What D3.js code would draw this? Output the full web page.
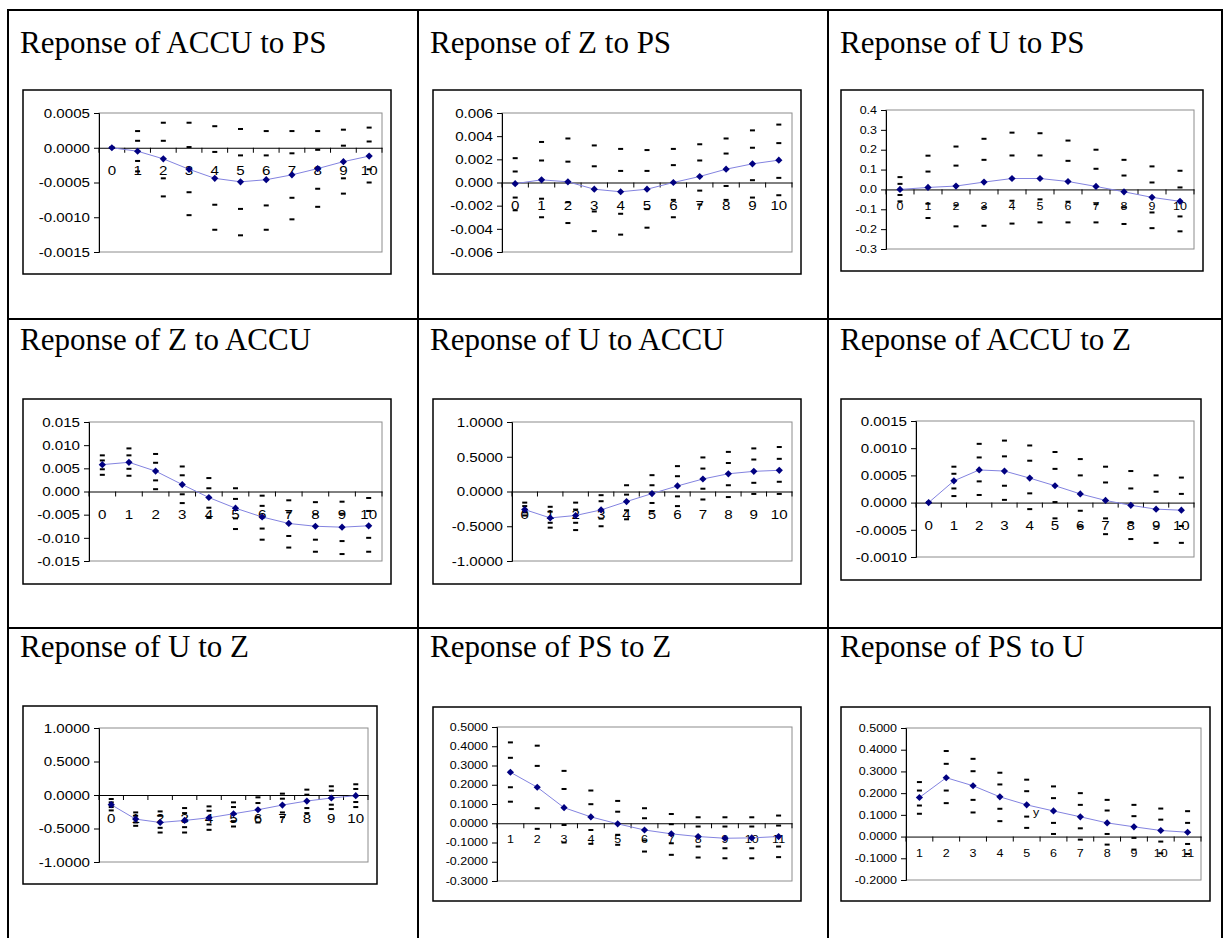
<!DOCTYPE html>
<html lang="en">
<head>
<meta charset="utf-8">
<title>Impulse responses</title>
<script src="https://cdn.jsdelivr.net/npm/d3@7"></script>
<style>
  body { margin: 0; background: #fff; }
  svg text { font-family: "Liberation Sans", Arial, sans-serif; fill: #000; }
  svg .title { font-family: "Liberation Serif", "Times New Roman", serif; font-size: 31px; }
</style>
</head>
<body>
<script>

// ---- data ----
var stepsA = [0, 1, 2, 3, 4, 5, 6, 7, 8, 9, 10],
    stepsB = [1, 2, 3, 4, 5, 6, 7, 8, 9, 10, 11];

var titles = ["Reponse of ACCU to PS", "Reponse of Z to PS", "Reponse of U to PS",
              "Reponse of Z to ACCU", "Reponse of U to ACCU", "Reponse of ACCU to Z",
              "Reponse of U to Z", "Reponse of PS to Z", "Reponse of PS to U"];

// response + bands [upper2, upper1, lower1, lower2] for each step
var accuPS = [0, -0.00005, -0.00016, -0.00031, -0.00044, -0.00049, -0.00046, -0.00039, -0.0003, -0.0002, -0.00012];
var accuPSBands = [
  [0, 0, 0, 0], [0.00024, 0.0001, -0.00019, -0.00034], [0.00036, 0.0001, -0.00044, -0.0007],
  [0.00036, 0.00001, -0.00064, -0.00097], [0.00031, -0.00006, -0.00082, -0.00118],
  [0.00027, -0.00011, -0.00088, -0.00126], [0.00024, -0.00011, -0.00083, -0.00118],
  [0.00024, -0.00008, -0.00072, -0.00103], [0.00024, -0.00003, -0.00059, -0.00085],
  [0.00026, 0.00003, -0.00044, -0.00066], [0.00029, 0.00009, -0.00031, -0.0005]];

var zPS = [-0.0001, 0.00023, 0.00006, -0.00058, -0.0008, -0.00058, 0, 0.00052, 0.00115, 0.00161, 0.00193];
var zPSBands = [
  [0.0021, 0.00095, -0.0013, -0.0024], [0.0035, 0.0019, -0.0014, -0.003], [0.0038, 0.0018, -0.0017, -0.0035],
  [0.0032, 0.0014, -0.0025, -0.0042], [0.0029, 0.001, -0.0027, -0.0045], [0.0028, 0.001, -0.0023, -0.0039],
  [0.0029, 0.0015, -0.0015, -0.003], [0.0033, 0.0019, -0.0007, -0.0019], [0.0038, 0.0025, -0.0003, -0.0015],
  [0.0045, 0.003, 0.0002, -0.0013], [0.005, 0.0034, 0.0004, -0.0011]];

var uPS = [0, 0.01, 0.017, 0.037, 0.055, 0.055, 0.04, 0.015, -0.012, -0.04, -0.06];
var uPSBands = [
  [0.062, 0.028, -0.028, -0.06], [0.17, 0.09, -0.072, -0.144], [0.216, 0.12, -0.08, -0.186],
  [0.255, 0.149, -0.09, -0.183], [0.286, 0.171, -0.057, -0.172], [0.283, 0.171, -0.05, -0.166],
  [0.246, 0.144, -0.062, -0.166], [0.2, 0.104, -0.074, -0.166], [0.149, 0.07, -0.09, -0.174],
  [0.116, 0.035, -0.116, -0.195], [0.094, 0.01, -0.136, -0.211]];

var zACCU = [0.0058, 0.0063, 0.0044, 0.0015, -0.0013, -0.0036, -0.0055, -0.0069, -0.0075, -0.0077, -0.0074];
var zACCUBands = [
  [0.0078, 0.0067, 0.0048, 0.0036], [0.0093, 0.0078, 0.0049, 0.0034], [0.0081, 0.0062, 0.0024, 0.0005],
  [0.0054, 0.0035, -0.0006, -0.0025], [0.0029, 0.0007, -0.0035, -0.0057], [0.0007, -0.0016, -0.0058, -0.0081],
  [-0.0009, -0.0031, -0.008, -0.0104], [-0.0019, -0.0045, -0.0096, -0.0121], [-0.0023, -0.0049, -0.0104, -0.013],
  [-0.0022, -0.0048, -0.0107, -0.0135], [-0.0014, -0.0042, -0.01, -0.013]];

var uACCU = [-0.26, -0.38, -0.345, -0.265, -0.145, -0.03, 0.08, 0.18, 0.255, 0.29, 0.305];
var uACCUBands = [
  [-0.16, -0.21, -0.3, -0.345], [-0.22, -0.29, -0.45, -0.52], [-0.16, -0.26, -0.45, -0.555],
  [-0.053, -0.14, -0.39, -0.5], [0.09, -0.045, -0.27, -0.4], [0.235, 0.09, -0.165, -0.285],
  [0.365, 0.22, -0.07, -0.21], [0.49, 0.33, 0.04, -0.115], [0.57, 0.41, 0.09, -0.08],
  [0.62, 0.46, 0.125, -0.035], [0.64, 0.47, 0.14, -0.035]];

var accuZ = [0, 0.0004, 0.0006, 0.00058, 0.00045, 0.00031, 0.00016, 0.00004, -0.00005, -0.00012, -0.00014];
var accuZBands = [
  [0, 0, 0, 0], [0.00066, 0.00053, 0.00026, 0.00012], [0.00108, 0.00083, 0.00039, 0.00014],
  [0.00114, 0.00085, 0.00031, 0.00005], [0.00105, 0.00077, 0.00017, -0.00012], [0.00093, 0.00062, 0.00001, -0.00029],
  [0.0008, 0.0005, -0.00015, -0.00044], [0.00066, 0.00037, -0.00029, -0.00058], [0.00058, 0.00026, -0.00037, -0.00067],
  [0.0005, 0.0002, -0.00044, -0.00074], [0.00046, 0.00016, -0.00043, -0.00074]];

var uZ = [-0.145, -0.36, -0.41, -0.38, -0.34, -0.28, -0.22, -0.15, -0.09, -0.045, -0.01];
var uZBands = [
  [-0.06, -0.11, -0.18, -0.23], [-0.26, -0.31, -0.41, -0.46], [-0.245, -0.31, -0.49, -0.56],
  [-0.195, -0.27, -0.48, -0.56], [-0.17, -0.235, -0.44, -0.52], [-0.11, -0.18, -0.39, -0.47],
  [-0.035, -0.12, -0.33, -0.41], [0.02, -0.055, -0.26, -0.33], [0.08, 0.005, -0.195, -0.27],
  [0.13, 0.065, -0.145, -0.21], [0.16, 0.09, -0.105, -0.18]];

var psZ = [0.265, 0.187, 0.081, 0.033, -0.003, -0.035, -0.055, -0.069, -0.078, -0.076, -0.069];
var psZBands = [
  [0.42, 0.34, 0.187, 0.112], [0.403, 0.298, 0.078, -0.029], [0.272, 0.178, -0.009, -0.1],
  [0.17, 0.099, -0.035, -0.107], [0.116, 0.06, -0.06, -0.112], [0.078, 0.026, -0.09, -0.147],
  [0.048, -0.005, -0.104, -0.164], [0.031, -0.017, -0.121, -0.178], [0.031, -0.017, -0.13, -0.182],
  [0.031, -0.017, -0.13, -0.182], [0.04, -0.012, -0.121, -0.176]];

var psU = [0.18, 0.271, 0.234, 0.183, 0.146, 0.118, 0.091, 0.063, 0.045, 0.028, 0.02];
var psUBands = [
  [0.251, 0.212, 0.143, 0.105], [0.394, 0.335, 0.212, 0.154], [0.358, 0.301, 0.169, 0.111],
  [0.294, 0.24, 0.128, 0.071], [0.262, 0.209, 0.092, 0.04], [0.231, 0.177, 0.063, 0.012],
  [0.2, 0.146, 0.038, -0.014], [0.169, 0.12, 0.012, -0.037], [0.146, 0.094, -0.006, -0.06],
  [0.129, 0.078, -0.023, -0.077], [0.117, 0.063, -0.034, -0.08]];

// y tick labels
var ticksAccuPS = [0.0005, 0, -0.0005, -0.001, -0.0015],
    ticksZPS    = [0.006, 0.004, 0.002, 0, -0.002, -0.004, -0.006],
    ticksUPS    = [0.4, 0.3, 0.2, 0.1, 0, -0.1, -0.2, -0.3],
    ticksZACCU  = [0.015, 0.01, 0.005, 0, -0.005, -0.01, -0.015],
    ticksUnit   = [1, 0.5, 0, -0.5, -1],
    ticksAccuZ  = [0.0015, 0.001, 0.0005, 0, -0.0005, -0.001],
    ticksPSZ    = [0.5, 0.4, 0.3, 0.2, 0.1, 0, -0.1, -0.2, -0.3],
    ticksPSU    = [0.5, 0.4, 0.3, 0.2, 0.1, 0, -0.1, -0.2];

// ---- layout ----
var W = 1228, H = 938;
var colX = [8, 418, 828, 1222],
    rowY = [10, 319, 628],
    titleBase = [53, 350, 657];

var panels = [
  {steps: stepsA, resp: accuPS, bands: accuPSBands, ticks: ticksAccuPS, fmt: ".4f", box: [23, 90, 391, 274],  plot: [99, 113, 382, 252],  small: false},
  {steps: stepsA, resp: zPS,    bands: zPSBands,    ticks: ticksZPS,    fmt: ".3f", box: [433, 90, 801, 274], plot: [502, 113, 792, 252], small: false},
  {steps: stepsA, resp: uPS,    bands: uPSBands,    ticks: ticksUPS,    fmt: ".1f", box: [841, 90, 1203, 271], plot: [886, 110, 1194, 249], small: true},
  {steps: stepsA, resp: zACCU,  bands: zACCUBands,  ticks: ticksZACCU,  fmt: ".3f", box: [23, 399, 391, 584], plot: [89, 422, 382, 561],  small: false},
  {steps: stepsA, resp: uACCU,  bands: uACCUBands,  ticks: ticksUnit,   fmt: ".4f", box: [433, 399, 801, 584], plot: [512, 422, 792, 561], small: false},
  {steps: stepsA, resp: accuZ,  bands: accuZBands,  ticks: ticksAccuZ,  fmt: ".4f", box: [841, 399, 1201, 580], plot: [916, 421, 1194, 557], small: false},
  {steps: stepsA, resp: uZ,     bands: uZBands,     ticks: ticksUnit,   fmt: ".4f", box: [23, 706, 377, 884], plot: [99, 728, 368, 862],  small: false},
  {steps: stepsB, resp: psZ,    bands: psZBands,    ticks: ticksPSZ,    fmt: ".4f", box: [433, 707, 801, 901], plot: [497, 727, 792, 881], small: true},
  {steps: stepsB, resp: psU,    bands: psUBands,    ticks: ticksPSU,    fmt: ".4f", box: [841, 707, 1210, 901], plot: [906, 728, 1201, 880], small: true}
];

var svg = d3.select("body").append("svg")
  .attr("width", W).attr("height", H);

// table grid
var grid = svg.append("g").attr("stroke", "#000").attr("stroke-width", 2);
colX.forEach(function(x) {
  grid.append("line").attr("x1", x).attr("x2", x).attr("y1", rowY[0]).attr("y2", H);
});
rowY.forEach(function(y) {
  grid.append("line").attr("x1", colX[0] - 1).attr("x2", colX[3] + 1).attr("y1", y).attr("y2", y);
});

function stretch(sel, sx) {
  // the chart fonts in the picture are a bit wide
  sel.attr("transform", function() {
    var t = d3.select(this).attr("transform");
    return (t ? t + " " : "") + "scale(" + sx + ",1)";
  });
}

panels.forEach(function(p, i) {
  var col = i % 3, row = Math.floor(i / 3);
  var fs = p.small ? 10 : 13.5,
      sx = p.small ? 1.25 : 1.12,
      pad = p.small ? 13 : 18;

  svg.append("text").attr("class", "title")
    .attr("x", colX[col] + 12).attr("y", titleBase[row])
    .text(titles[i]);

  var g = svg.append("g");

  g.append("rect")
    .attr("x", p.box[0]).attr("y", p.box[1])
    .attr("width", p.box[2] - p.box[0]).attr("height", p.box[3] - p.box[1])
    .attr("fill", "#fff").attr("stroke", "#000").attr("stroke-width", 1.5);

  var x = d3.scaleBand().domain(p.steps).range([p.plot[0], p.plot[2]]);
  var y = d3.scaleLinear().domain(d3.extent(p.ticks)).range([p.plot[3], p.plot[1]]);
  var cx = function(d) { return x(d) + x.bandwidth() / 2; };

  g.append("rect")
    .attr("x", p.plot[0]).attr("y", p.plot[1])
    .attr("width", p.plot[2] - p.plot[0]).attr("height", p.plot[3] - p.plot[1])
    .attr("fill", "none").attr("stroke", "#8c8c8c").attr("stroke-width", 1);

  var f = d3.format(p.fmt);
  var yAxis = g.append("g")
    .attr("transform", "translate(" + p.plot[0] + ",0)")
    .call(d3.axisLeft(y).tickValues(p.ticks).tickSizeOuter(0).tickSize(5).tickPadding(4)
      .tickFormat(function(d) { return f(d).replace("\u2212", "-"); }));
  yAxis.select(".domain").attr("stroke", "#000");
  yAxis.selectAll(".tick line").attr("stroke", "#000");
  yAxis.selectAll("text").attr("font-size", fs).attr("font-family", null)
    .attr("x", -9 / sx).call(stretch, sx);

  // x axis sits on zero
  var y0 = y(0);
  var xAxis = g.append("g")
    .attr("transform", "translate(0," + y0 + ")")
    .call(d3.axisBottom(x).tickSize(0).tickPadding(pad));
  xAxis.select(".domain").attr("stroke", "#000");
  xAxis.selectAll("text").attr("font-size", fs).attr("font-family", null).call(stretch, sx);

  var edges = p.steps.map(function(d) { return x(d); }).concat([x.range()[1]]);
  g.append("g").selectAll("line").data(edges).enter().append("line")
    .attr("x1", function(d) { return d; }).attr("x2", function(d) { return d; })
    .attr("y1", y0).attr("y2", y0 + 5)
    .attr("stroke", "#000");

  // response line
  var line = d3.line()
    .x(function(d, k) { return cx(p.steps[k]); })
    .y(function(d) { return y(d); });
  g.append("path").datum(p.resp)
    .attr("d", line)
    .attr("fill", "none").attr("stroke", "#8383e0").attr("stroke-width", 1);

  // bands as short dashes
  var dashes = [];
  p.bands.forEach(function(b, k) {
    b.forEach(function(v) { dashes.push({s: p.steps[k], v: v}); });
  });
  g.append("g").selectAll("rect").data(dashes).enter().append("rect")
    .attr("x", function(d) { return cx(d.s) - 2.5; })
    .attr("y", function(d) { return y(d.v) - 1; })
    .attr("width", 5).attr("height", 2)
    .attr("fill", "#000");

  // diamond markers
  g.append("g").selectAll("path").data(p.resp).enter().append("path")
    .attr("d", function(d, k) {
      var px = cx(p.steps[k]), py = y(d), r = 3.6;
      return "M" + px + "," + (py - r) + "L" + (px + r) + "," + py + "L" + px + "," + (py + r) + "L" + (px - r) + "," + py + "Z";
    })
    .attr("fill", "#000080");
});

// stray label left in the last chart
svg.append("text")
  .attr("x", 1033).attr("y", 816)
  .attr("font-size", 10)
  .attr("transform", "translate(1033,816) scale(1.25,1) translate(-1033,-816)")
  .text("y");

</script>
</body>
</html>
